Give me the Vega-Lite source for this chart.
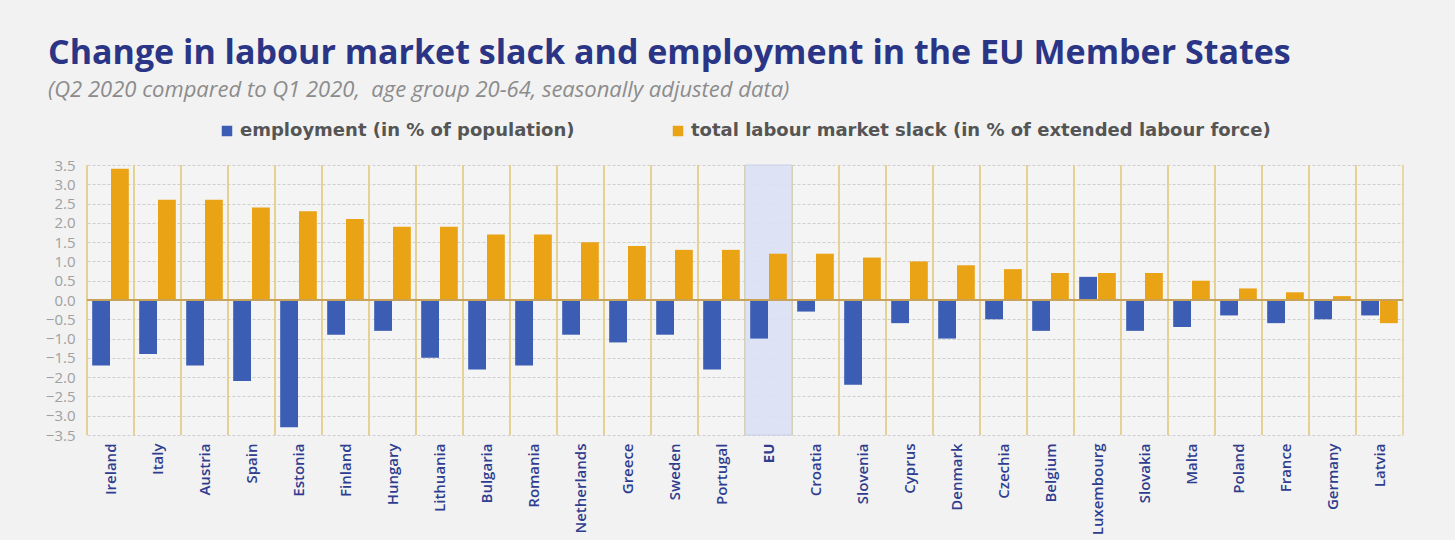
{
  "$schema": "https://vega.github.io/schema/vega-lite/v6.json",
  "autosize": {"type": "none"},
  "width": 1316,
  "height": 270,
  "padding": {"left": 87, "top": 165, "right": 52, "bottom": 105},
  "background": "#f2f2f2",
  "title": {
    "text": "Change in labour market slack and employment in the EU Member States",
    "subtitle": "(Q2 2020 compared to Q1 2020,\u00a0 age group 20-64, seasonally adjusted data)",
    "anchor": "start",
    "frame": "group",
    "dx": -39,
    "offset": 21,
    "font": "Open Sans",
    "fontSize": 34,
    "fontWeight": "bold",
    "color": "#2b3585",
    "subtitleFont": "Open Sans",
    "subtitleFontStyle": "italic",
    "subtitleFontSize": 22,
    "subtitleColor": "#8c8c8c",
    "subtitlePadding": 9
  },
  "config": {
    "view": {"stroke": null, "fill": "#f4f4f4"},
    "axis": {"labelFont": "Open Sans"},
    "axisY": {"labelOverlap": false, "labelFontSize": 15}
  },
  "datasets": {
    "main": [
      {"country": "Ireland", "measure": "employment  (in % of population)", "value": -1.7},
      {"country": "Ireland", "measure": "total labour market slack (in % of extended labour force)", "value": 3.4},
      {"country": "Italy", "measure": "employment  (in % of population)", "value": -1.4},
      {"country": "Italy", "measure": "total labour market slack (in % of extended labour force)", "value": 2.6},
      {"country": "Austria", "measure": "employment  (in % of population)", "value": -1.7},
      {"country": "Austria", "measure": "total labour market slack (in % of extended labour force)", "value": 2.6},
      {"country": "Spain", "measure": "employment  (in % of population)", "value": -2.1},
      {"country": "Spain", "measure": "total labour market slack (in % of extended labour force)", "value": 2.4},
      {"country": "Estonia", "measure": "employment  (in % of population)", "value": -3.3},
      {"country": "Estonia", "measure": "total labour market slack (in % of extended labour force)", "value": 2.3},
      {"country": "Finland", "measure": "employment  (in % of population)", "value": -0.9},
      {"country": "Finland", "measure": "total labour market slack (in % of extended labour force)", "value": 2.1},
      {"country": "Hungary", "measure": "employment  (in % of population)", "value": -0.8},
      {"country": "Hungary", "measure": "total labour market slack (in % of extended labour force)", "value": 1.9},
      {"country": "Lithuania", "measure": "employment  (in % of population)", "value": -1.5},
      {"country": "Lithuania", "measure": "total labour market slack (in % of extended labour force)", "value": 1.9},
      {"country": "Bulgaria", "measure": "employment  (in % of population)", "value": -1.8},
      {"country": "Bulgaria", "measure": "total labour market slack (in % of extended labour force)", "value": 1.7},
      {"country": "Romania", "measure": "employment  (in % of population)", "value": -1.7},
      {"country": "Romania", "measure": "total labour market slack (in % of extended labour force)", "value": 1.7},
      {"country": "Netherlands", "measure": "employment  (in % of population)", "value": -0.9},
      {"country": "Netherlands", "measure": "total labour market slack (in % of extended labour force)", "value": 1.5},
      {"country": "Greece", "measure": "employment  (in % of population)", "value": -1.1},
      {"country": "Greece", "measure": "total labour market slack (in % of extended labour force)", "value": 1.4},
      {"country": "Sweden", "measure": "employment  (in % of population)", "value": -0.9},
      {"country": "Sweden", "measure": "total labour market slack (in % of extended labour force)", "value": 1.3},
      {"country": "Portugal", "measure": "employment  (in % of population)", "value": -1.8},
      {"country": "Portugal", "measure": "total labour market slack (in % of extended labour force)", "value": 1.3},
      {"country": "EU", "measure": "employment  (in % of population)", "value": -1.0},
      {"country": "EU", "measure": "total labour market slack (in % of extended labour force)", "value": 1.2},
      {"country": "Croatia", "measure": "employment  (in % of population)", "value": -0.3},
      {"country": "Croatia", "measure": "total labour market slack (in % of extended labour force)", "value": 1.2},
      {"country": "Slovenia", "measure": "employment  (in % of population)", "value": -2.2},
      {"country": "Slovenia", "measure": "total labour market slack (in % of extended labour force)", "value": 1.1},
      {"country": "Cyprus", "measure": "employment  (in % of population)", "value": -0.6},
      {"country": "Cyprus", "measure": "total labour market slack (in % of extended labour force)", "value": 1.0},
      {"country": "Denmark", "measure": "employment  (in % of population)", "value": -1.0},
      {"country": "Denmark", "measure": "total labour market slack (in % of extended labour force)", "value": 0.9},
      {"country": "Czechia", "measure": "employment  (in % of population)", "value": -0.5},
      {"country": "Czechia", "measure": "total labour market slack (in % of extended labour force)", "value": 0.8},
      {"country": "Belgium", "measure": "employment  (in % of population)", "value": -0.8},
      {"country": "Belgium", "measure": "total labour market slack (in % of extended labour force)", "value": 0.7},
      {"country": "Luxembourg", "measure": "employment  (in % of population)", "value": 0.6},
      {"country": "Luxembourg", "measure": "total labour market slack (in % of extended labour force)", "value": 0.7},
      {"country": "Slovakia", "measure": "employment  (in % of population)", "value": -0.8},
      {"country": "Slovakia", "measure": "total labour market slack (in % of extended labour force)", "value": 0.7},
      {"country": "Malta", "measure": "employment  (in % of population)", "value": -0.7},
      {"country": "Malta", "measure": "total labour market slack (in % of extended labour force)", "value": 0.5},
      {"country": "Poland", "measure": "employment  (in % of population)", "value": -0.4},
      {"country": "Poland", "measure": "total labour market slack (in % of extended labour force)", "value": 0.3},
      {"country": "France", "measure": "employment  (in % of population)", "value": -0.6},
      {"country": "France", "measure": "total labour market slack (in % of extended labour force)", "value": 0.2},
      {"country": "Germany", "measure": "employment  (in % of population)", "value": -0.5},
      {"country": "Germany", "measure": "total labour market slack (in % of extended labour force)", "value": 0.1},
      {"country": "Latvia", "measure": "employment  (in % of population)", "value": -0.4},
      {"country": "Latvia", "measure": "total labour market slack (in % of extended labour force)", "value": -0.6}
    ]
  },
  "data": {"name": "main"},
  "layer": [
    {
      "mark": {"type": "rule", "color": "#e5cf8c", "strokeWidth": 1.5},
      "encoding": {
        "x": {
          "field": "country", "type": "nominal", "sort": null, "bandPosition": 0,
          "scale": {"paddingInner": 0, "paddingOuter": 0},
          "axis": {
            "title": null, "grid": false, "domain": false, "ticks": false,
            "labelAngle": -90, "labelPadding": 8,
            "labelFont": "Open Sans", "labelFontSize": 15, "labelColor": "#2e3d8f",
            "labelFontWeight": {"condition": {"test": "datum.value == 'EU'", "value": "bold"}, "value": 600}
          }
        }
      }
    },
    {
      "transform": [{"filter": "datum.country == 'EU' && datum.value < 0"}],
      "mark": {"type": "rect", "fill": "#dbe2f5", "opacity": 0.9, "stroke": "#c6cfea", "strokeWidth": 1},
      "encoding": {
        "x": {"field": "country", "type": "nominal", "sort": null}
      }
    },
    {
      "transform": [{"filter": "datum.country == 'Latvia' && datum.measure == 'employment  (in % of population)'"}],
      "mark": {"type": "rule", "color": "#e5cf8c", "strokeWidth": 1.5},
      "encoding": {
        "x": {"field": "country", "type": "nominal", "sort": null, "bandPosition": 1}
      }
    },
    {
      "mark": {"type": "bar"},
      "encoding": {
        "x": {"field": "country", "type": "nominal", "sort": null},
        "xOffset": {
          "field": "measure", "type": "nominal", "sort": null,
          "scale": {"paddingInner": 0.053, "paddingOuter": 0.276}
        },
        "y": {
          "field": "value", "type": "quantitative",
          "scale": {"domain": [-3.5, 3.5], "nice": false, "zero": false},
          "axis": {
            "title": null, "domain": false, "ticks": false, "tickCount": 30,
            "values": [-3.5, -3, -2.5, -2, -1.5, -1, -0.5, 0, 0.5, 1, 1.5, 2, 2.5, 3, 3.5],
            "format": ".1f", "labelFont": "Open Sans", "labelFontSize": 15, "labelColor": "#a0a0a0",
            "labelPadding": 12, "labelOverlap": false,
            "grid": true, "gridColor": "#cfcfcf", "gridDash": [3, 2], "gridWidth": 1
          }
        },
        "color": {
          "field": "measure", "type": "nominal", "sort": null,
          "scale": {
            "domain": ["employment  (in % of population)", "total labour market slack (in % of extended labour force)"],
            "range": ["#3b5db3", "#e9a315"]
          },
          "legend": {
            "orient": "none", "legendX": 131, "legendY": -43, "direction": "horizontal",
            "title": null, "symbolType": "square", "symbolSize": 110, "symbolStrokeWidth": 0,
            "labelFont": "DejaVu Sans", "labelFontSize": 18, "labelFontWeight": "bold", "labelColor": "#555555",
            "columnPadding": 88, "labelLimit": 800, "labelOffset": 4
          }
        }
      }
    },
    {
      "mark": {"type": "rule", "color": "#c9a25a", "strokeWidth": 2},
      "encoding": {"y": {"datum": 0}}
    }
  ]
}
